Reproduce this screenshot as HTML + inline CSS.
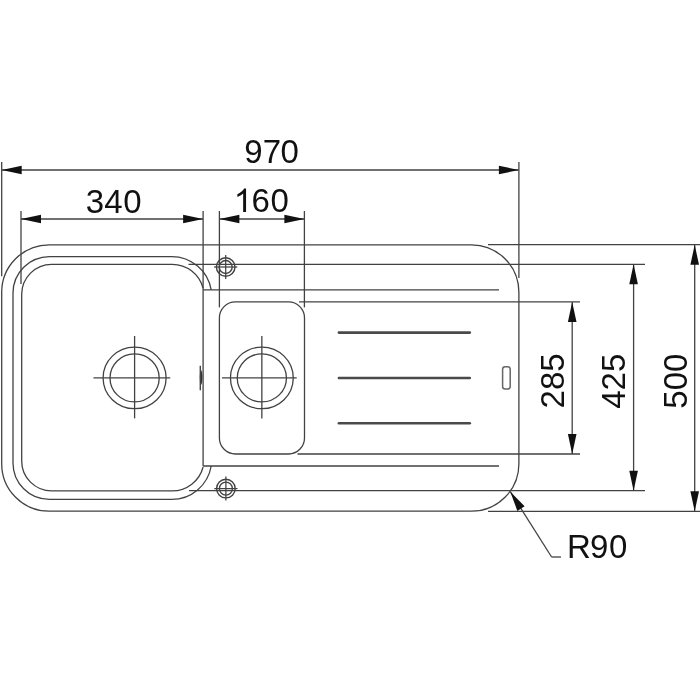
<!DOCTYPE html>
<html><head><meta charset="utf-8"><style>html,body{margin:0;padding:0;background:#fff;overflow:hidden}svg{display:block;will-change:transform}text{font-family:"Liberation Sans",sans-serif}</style></head>
<body><svg width="700" height="700" viewBox="0 0 700 700">
<rect width="700" height="700" fill="#fff"/>
<g>
<line x1="1.7" y1="170" x2="518.9" y2="170" stroke="#424242" stroke-width="1.3" stroke-linecap="butt"/>
<path d="M1.70,170.00 L21.70,165.70 L21.70,174.30 Z" fill="#111"/>
<path d="M518.90,170.00 L498.90,174.30 L498.90,165.70 Z" fill="#111"/>
<line x1="1.7" y1="162" x2="1.7" y2="276.3" stroke="#424242" stroke-width="1.3" stroke-linecap="butt"/>
<line x1="518.9" y1="162" x2="518.9" y2="278" stroke="#424242" stroke-width="1.3" stroke-linecap="butt"/>
<line x1="21" y1="219.0" x2="203.1" y2="219.0" stroke="#424242" stroke-width="1.3" stroke-linecap="butt"/>
<path d="M21.00,219.00 L41.00,214.70 L41.00,223.30 Z" fill="#111"/>
<path d="M203.10,219.00 L183.10,223.30 L183.10,214.70 Z" fill="#111"/>
<line x1="219.4" y1="219.0" x2="304.4" y2="219.0" stroke="#424242" stroke-width="1.3" stroke-linecap="butt"/>
<path d="M219.40,219.00 L239.40,214.70 L239.40,223.30 Z" fill="#111"/>
<path d="M304.40,219.00 L284.40,223.30 L284.40,214.70 Z" fill="#111"/>
<line x1="21" y1="211" x2="21" y2="284" stroke="#424242" stroke-width="1.3" stroke-linecap="butt"/>
<line x1="203.1" y1="211" x2="203.1" y2="466" stroke="#424242" stroke-width="1.3" stroke-linecap="butt"/>
<line x1="219.4" y1="211" x2="219.4" y2="307.4" stroke="#424242" stroke-width="1.3" stroke-linecap="butt"/>
<line x1="304.4" y1="211" x2="304.4" y2="307.4" stroke="#424242" stroke-width="1.3" stroke-linecap="butt"/>
<rect x="1.7" y="244.8" width="517.1999999999999" height="266.4" rx="47.5" fill="none" stroke="#424242" stroke-width="1.3"/>
<line x1="488" y1="244.7" x2="700" y2="244.7" stroke="#424242" stroke-width="1.3" stroke-linecap="butt"/>
<line x1="488" y1="511.3" x2="700" y2="511.3" stroke="#424242" stroke-width="1.3" stroke-linecap="butt"/>
<path d="M211.2,289.9 A40.0,40.0 0 0 0 171.77,256.6 L49.5,256.6 A36.5,36.5 0 0 0 13,293.1 L13,462.9 A36.5,36.5 0 0 0 49.5,499.4 L171.75,499.4 A40.0,40.0 0 0 0 211.2,466" fill="none" stroke="#424242" stroke-width="1.3"/>
<path d="M203.1,288.19 A31.8,31.8 0 0 0 172.3,264.3 L51.7,264.3 A30,30 0 0 0 21.7,294.3 L21.7,460.9 A30,30 0 0 0 51.7,490.9 L172.3,490.9 A31.8,31.8 0 0 0 203.1,467.01" fill="none" stroke="#424242" stroke-width="1.3"/>
<ellipse cx="134.6" cy="377.9" rx="31.5" ry="30.8" fill="none" stroke="#424242" stroke-width="1.3"/>
<ellipse cx="134.6" cy="377.9" rx="24.6" ry="24.0" fill="none" stroke="#424242" stroke-width="1.3"/>
<line x1="134.6" y1="336" x2="134.6" y2="418.4" stroke="#424242" stroke-width="1.3" stroke-linecap="butt"/>
<line x1="93.5" y1="377.9" x2="170.25" y2="377.9" stroke="#424242" stroke-width="1.3" stroke-linecap="butt"/>
<ellipse cx="261.85" cy="377.9" rx="31.4" ry="30.8" fill="none" stroke="#424242" stroke-width="1.3"/>
<ellipse cx="261.85" cy="377.9" rx="24.6" ry="24.0" fill="none" stroke="#424242" stroke-width="1.3"/>
<line x1="261.85" y1="336" x2="261.85" y2="418.4" stroke="#424242" stroke-width="1.3" stroke-linecap="butt"/>
<line x1="222" y1="377.9" x2="296.75" y2="377.9" stroke="#424242" stroke-width="1.3" stroke-linecap="butt"/>
<circle cx="225.7" cy="267.0" r="9.3" fill="none" stroke="#424242" stroke-width="1.4"/>
<circle cx="225.7" cy="267.0" r="6.5" fill="none" stroke="#424242" stroke-width="1.35"/>
<line x1="225.7" y1="255.0" x2="225.7" y2="279.0" stroke="#424242" stroke-width="1.25" stroke-linecap="butt"/>
<line x1="214.1" y1="267.0" x2="237.29999999999998" y2="267.0" stroke="#424242" stroke-width="1.25" stroke-linecap="butt"/>
<circle cx="225.9" cy="488.6" r="9.3" fill="none" stroke="#424242" stroke-width="1.4"/>
<circle cx="225.9" cy="488.6" r="6.5" fill="none" stroke="#424242" stroke-width="1.35"/>
<line x1="225.9" y1="476.6" x2="225.9" y2="500.6" stroke="#424242" stroke-width="1.25" stroke-linecap="butt"/>
<line x1="214.3" y1="488.6" x2="237.5" y2="488.6" stroke="#424242" stroke-width="1.25" stroke-linecap="butt"/>
<ellipse cx="201.1" cy="377.5" rx="1.3" ry="7.2" fill="#333"/>
<line x1="200.3" y1="365.7" x2="200.3" y2="390.3" stroke="#444" stroke-width="1.4" stroke-linecap="butt"/>
<rect x="219.4" y="301.9" width="85.1" height="152.10000000000002" rx="16" fill="none" stroke="#424242" stroke-width="1.3"/>
<line x1="203.1" y1="289.9" x2="499" y2="289.9" stroke="#424242" stroke-width="1.3" stroke-linecap="butt"/>
<line x1="203.1" y1="466" x2="499" y2="466" stroke="#424242" stroke-width="1.3" stroke-linecap="butt"/>
<line x1="188.5" y1="264.3" x2="645" y2="264.3" stroke="#424242" stroke-width="1.3" stroke-linecap="butt"/>
<line x1="189" y1="490.7" x2="645" y2="490.7" stroke="#424242" stroke-width="1.3" stroke-linecap="butt"/>
<line x1="299" y1="301.9" x2="580" y2="301.9" stroke="#424242" stroke-width="1.3" stroke-linecap="butt"/>
<line x1="297.5" y1="454" x2="580" y2="454" stroke="#424242" stroke-width="1.3" stroke-linecap="butt"/>
<line x1="338.9" y1="332.6" x2="469.8" y2="332.6" stroke="#4a4a4a" stroke-width="2.6" stroke-linecap="round"/>
<line x1="338.9" y1="378" x2="469.8" y2="378" stroke="#4a4a4a" stroke-width="2.6" stroke-linecap="round"/>
<line x1="338.9" y1="423.3" x2="469.8" y2="423.3" stroke="#4a4a4a" stroke-width="2.6" stroke-linecap="round"/>
<rect x="502.6" y="366.7" width="7.6" height="22.4" rx="2.5" fill="none" stroke="#666" stroke-width="1.5"/>
<line x1="572.2" y1="301.9" x2="572.2" y2="454" stroke="#424242" stroke-width="1.3" stroke-linecap="butt"/>
<path d="M572.20,301.90 L576.50,321.90 L567.90,321.90 Z" fill="#111"/>
<path d="M572.20,454.00 L567.90,434.00 L576.50,434.00 Z" fill="#111"/>
<line x1="633.6" y1="264.3" x2="633.6" y2="490.7" stroke="#424242" stroke-width="1.3" stroke-linecap="butt"/>
<path d="M633.60,264.30 L637.90,284.30 L629.30,284.30 Z" fill="#111"/>
<path d="M633.60,490.70 L629.30,470.70 L637.90,470.70 Z" fill="#111"/>
<line x1="694.7" y1="244.7" x2="694.7" y2="511.3" stroke="#424242" stroke-width="1.3" stroke-linecap="butt"/>
<path d="M694.70,244.70 L699.00,264.70 L690.40,264.70 Z" fill="#111"/>
<path d="M694.70,511.30 L690.40,491.30 L699.00,491.30 Z" fill="#111"/>
<line x1="510.3" y1="491.7" x2="551.6" y2="557" stroke="#424242" stroke-width="1.3" stroke-linecap="butt"/>
<line x1="551.6" y1="557" x2="561" y2="557" stroke="#424242" stroke-width="1.3" stroke-linecap="butt"/>
<path d="M510.30,491.70 L524.62,506.30 L517.36,510.90 Z" fill="#111"/>
<text x="244.2 262.8 280.4" y="163.3" font-size="33" fill="#111">970</text>
<text x="85.8 104.3 123.3" y="212.9" font-size="33" fill="#111">340</text>
<text x="251.4 270.4" y="212" font-size="33" fill="#111">60</text>
<path transform="translate(233.76,212) scale(0.016113,-0.016113)" d="M763,0 L583,0 L583,1147 C540,1106 483,1064 413,1023 C342,982 279,951 223,930 L223,1104 C323,1151 411,1208 486,1275 C561,1342 614,1406 645,1466 L763,1466 Z" fill="#111"/>
<text x="567 589.9 609" y="557.9" font-size="33" fill="#111">R90</text>
<text transform="translate(564.3,380.9) rotate(-90)" text-anchor="middle" font-size="33" fill="#111">285</text>
<text transform="translate(625.2,381.2) rotate(-90)" text-anchor="middle" font-size="33" fill="#111">425</text>
<text transform="translate(686.6,381.1) rotate(-90)" text-anchor="middle" font-size="33" fill="#111">500</text>
</g>
</svg></body></html>
